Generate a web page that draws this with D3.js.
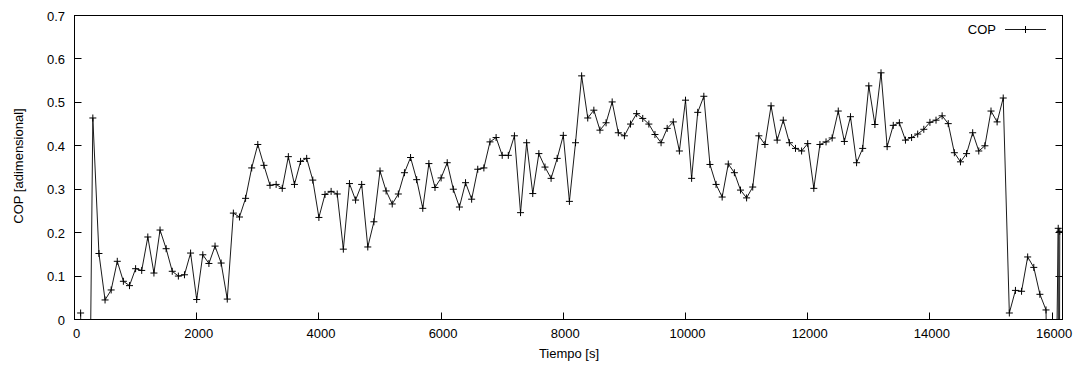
<!DOCTYPE html>
<html>
<head>
<meta charset="utf-8">
<script src="https://cdn.jsdelivr.net/npm/d3@7/dist/d3.min.js"></script>
<style>
  html, body { margin: 0; padding: 0; background: #fff; }
  svg { display: block; }
  text { font-family: "Liberation Sans", Arial, sans-serif; font-size: 13px; fill: #000; }
</style>
</head>
<body>
<svg id="chart" width="1077" height="365"></svg>
<script>
// ---- data ----
const seriesName = "COP";
const xTitle = "Tiempo [s]";
const yTitle = "COP [adimensional]";
const xTickValues = [0, 2000, 4000, 6000, 8000, 10000, 12000, 14000, 16000];
const yTickValues = [0, 0.1, 0.2, 0.3, 0.4, 0.5, 0.6, 0.7];
const times = [
  100, 200, 300, 400, 500, 600, 700, 800, 900, 1000,
  1100, 1200, 1300, 1400, 1500, 1600, 1700, 1800, 1900, 2000,
  2100, 2200, 2300, 2400, 2500, 2600, 2700, 2800, 2900, 3000,
  3100, 3200, 3300, 3400, 3500, 3600, 3700, 3800, 3900, 4000,
  4100, 4200, 4300, 4400, 4500, 4600, 4700, 4800, 4900, 5000,
  5100, 5200, 5300, 5400, 5500, 5600, 5700, 5800, 5900, 6000,
  6100, 6200, 6300, 6400, 6500, 6600, 6700, 6800, 6900, 7000,
  7100, 7200, 7300, 7400, 7500, 7600, 7700, 7800, 7900, 8000,
  8100, 8200, 8300, 8400, 8500, 8600, 8700, 8800, 8900, 9000,
  9100, 9200, 9300, 9400, 9500, 9600, 9700, 9800, 9900, 10000,
  10100, 10200, 10300, 10400, 10500, 10600, 10700, 10800, 10900, 11000,
  11100, 11200, 11300, 11400, 11500, 11600, 11700, 11800, 11900, 12000,
  12100, 12200, 12300, 12400, 12500, 12600, 12700, 12800, 12900, 13000,
  13100, 13200, 13300, 13400, 13500, 13600, 13700, 13800, 13900, 14000,
  14100, 14200, 14300, 14400, 14500, 14600, 14700, 14800, 14900, 15000,
  15100, 15200, 15300, 15400, 15500, 15600, 15700, 15800, 15900, 16000,
  16100, 16110, 16125
];
const copValues = [
  0.015, -0.9, 0.464, 0.152, 0.045, 0.068, 0.134, 0.088, 0.078, 0.117,
  0.113, 0.19, 0.107, 0.206, 0.163, 0.111, 0.10, 0.103, 0.153, 0.046,
  0.149, 0.129, 0.169, 0.13, 0.047, 0.245, 0.236, 0.279, 0.349, 0.403,
  0.355, 0.309, 0.311, 0.302, 0.375, 0.311, 0.364, 0.371, 0.321, 0.235,
  0.288, 0.295, 0.289, 0.162, 0.313, 0.275, 0.311, 0.167, 0.225, 0.342,
  0.296, 0.266, 0.289, 0.338, 0.373, 0.322, 0.256, 0.359, 0.304, 0.326,
  0.361, 0.30, 0.259, 0.315, 0.277, 0.346, 0.349, 0.409, 0.419, 0.378,
  0.378, 0.423, 0.246, 0.407, 0.29, 0.382, 0.351, 0.325, 0.371, 0.424,
  0.272, 0.407, 0.561, 0.464, 0.482, 0.436, 0.453, 0.501, 0.43, 0.423,
  0.45, 0.474, 0.463, 0.45, 0.426, 0.407, 0.44, 0.455, 0.388, 0.505,
  0.325, 0.477, 0.514, 0.357, 0.311, 0.282, 0.358, 0.338, 0.298, 0.28,
  0.305, 0.423, 0.403, 0.492, 0.413, 0.459, 0.407, 0.394, 0.388, 0.405,
  0.302, 0.403, 0.409, 0.418, 0.48, 0.41, 0.467, 0.361, 0.394, 0.538,
  0.449, 0.568, 0.398, 0.447, 0.453, 0.413, 0.419, 0.427, 0.438, 0.454,
  0.459, 0.469, 0.451, 0.384, 0.363, 0.382, 0.43, 0.388, 0.40, 0.48,
  0.455, 0.51, 0.015, 0.067, 0.065, 0.144, 0.12, 0.058, 0.022, -0.9,
  0.21, -1.0, 0.203
];
const xDomain = [0, 16170];
const yDomain = [0, 0.7];

// ---- layout ----
const pLeft = 74.5, pRight = 1062.5, pTop = 15.5, pBottom = 319.5;
const svg = d3.select("#chart");
const x = d3.scaleLinear().domain(xDomain).range([pLeft, pRight]);
const y = d3.scaleLinear().domain(yDomain).range([pBottom, pTop]);
const data = times.map((t, i) => ({ t, v: copValues[i] }));

svg.append("defs").append("clipPath").attr("id", "plotClip")
  .append("rect").attr("x", pLeft).attr("y", pTop)
  .attr("width", pRight - pLeft).attr("height", pBottom - pTop);

// ticks (inward), gnuplot style
const tickLen = 7;
const gT = svg.append("g").attr("stroke", "#000").attr("stroke-width", 1);
yTickValues.forEach(v => {
  const yy = Math.round(y(v) - 0.5) + 0.5;
  gT.append("line").attr("x1", pLeft).attr("x2", pLeft + tickLen).attr("y1", yy).attr("y2", yy);
  gT.append("line").attr("x1", pRight).attr("x2", pRight - tickLen).attr("y1", yy).attr("y2", yy);
});
xTickValues.forEach(v => {
  const xx = Math.round(x(v) - 0.5) + 0.5;
  gT.append("line").attr("x1", xx).attr("x2", xx).attr("y1", pBottom).attr("y2", pBottom - tickLen);
});

// tick labels
const yFmt = d3.format(".1f");
svg.append("g").selectAll("text").data(yTickValues).join("text")
  .attr("x", 65).attr("y", d => y(d) + 5)
  .attr("text-anchor", "end")
  .text(d => d === 0 ? "0" : yFmt(d));
svg.append("g").selectAll("text").data(xTickValues).join("text")
  .attr("x", d => x(d) + 2).attr("y", 338)
  .attr("text-anchor", "middle")
  .text(d => d);

// axis titles
svg.append("text").attr("x", 569).attr("y", 358).attr("text-anchor", "middle").text(xTitle);
svg.append("text").attr("transform", "translate(23,166) rotate(-90)")
  .attr("text-anchor", "middle").text(yTitle);

// series line
const line = d3.line().x(d => x(d.t)).y(d => y(d.v));
svg.append("path").datum(data)
  .attr("clip-path", "url(#plotClip)")
  .attr("fill", "none").attr("stroke", "#1a1a1a").attr("stroke-width", 1)
  .attr("d", line);

// markers (+), only inside range
const ms = 3.5;
const inRange = data.filter(d => d.v >= yDomain[0] && d.v <= yDomain[1]);
const gM = svg.append("g").attr("stroke", "#000").attr("stroke-width", 1).attr("clip-path", "url(#plotClip)");
inRange.forEach(d => {
  const cx = x(d.t), cy = y(d.v);
  gM.append("line").attr("x1", cx - ms).attr("x2", cx + ms).attr("y1", cy).attr("y2", cy);
  gM.append("line").attr("x1", cx).attr("x2", cx).attr("y1", cy - ms).attr("y2", cy + ms);
});

// frame
svg.append("rect").attr("x", pLeft).attr("y", pTop)
  .attr("width", pRight - pLeft).attr("height", pBottom - pTop)
  .attr("fill", "none").attr("stroke", "#000").attr("stroke-width", 1);

// legend
const lg = svg.append("g");
lg.append("text").attr("x", 996).attr("y", 34).attr("text-anchor", "end").text(seriesName);
lg.append("line").attr("x1", 1005).attr("x2", 1046).attr("y1", 29.5).attr("y2", 29.5)
  .attr("stroke", "#1a1a1a").attr("stroke-width", 1);
lg.append("line").attr("x1", 1025.5 - ms).attr("x2", 1025.5 + ms).attr("y1", 29.5).attr("y2", 29.5)
  .attr("stroke", "#000");
lg.append("line").attr("x1", 1025.5).attr("x2", 1025.5).attr("y1", 29.5 - ms).attr("y2", 29.5 + ms)
  .attr("stroke", "#000");
</script>
</body>
</html>
